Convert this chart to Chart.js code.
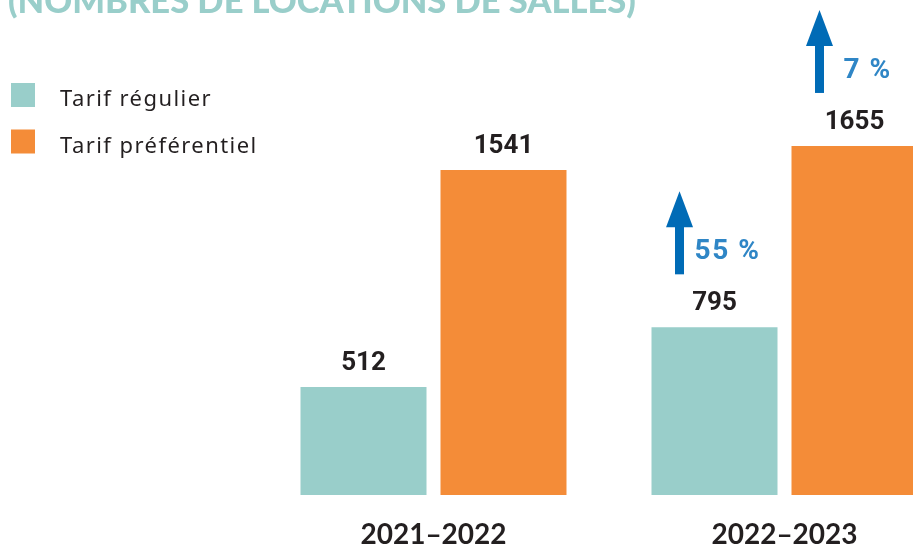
<!DOCTYPE html>
<html><head><meta charset="utf-8">
<script src="https://cdn.jsdelivr.net/npm/chart.js@4/dist/chart.umd.min.js"></script>
<style>
html,body{margin:0;padding:0;overflow:hidden;background:#fff;width:913px;height:544px}
#wrap{position:absolute;left:0;top:0;width:960px;height:560px}
</style></head>
<body><div id="wrap"><canvas id="c"></canvas></div>
<script>
const titleText = '(NOMBRES DE LOCATIONS DE SALLES)';
const categories = ['2021–2022', '2022–2023'];
const seriesNames = ['Tarif régulier', 'Tarif préférentiel'];
const regular = [512, 795];
const preferential = [1541, 1655];

const TEAL = '#99ceca', ORANGE = '#f48c38', DARK = '#231f20', ARROW = '#006bb6', PCT = '#2f86c6';
const NUM_FONT = '"Roboto","Lato","Noto Sans",sans-serif';
const LEG_FONT = '22px "Noto Sans","Open Sans",sans-serif';

const overlay = {
  id: 'overlay',
  afterDatasetsDraw(chart) {
    const ctx = chart.ctx;
    ctx.save();
    // title (partly cut off at top)
    let fs = 30;
    ctx.font = `900 ${fs}px "Lato","Noto Sans",sans-serif`;
    const w = ctx.measureText(titleText).width;
    fs = fs * 628 / w;
    ctx.font = `900 ${fs}px "Lato","Noto Sans",sans-serif`;
    ctx.fillStyle = TEAL;
    ctx.textAlign = 'left';
    ctx.textBaseline = 'alphabetic';
    ctx.fillText(titleText, 8, 13);

    // legend
    const legendY = [95, 141.5];
    ctx.font = LEG_FONT;
    const baseW = ctx.measureText(chart.data.datasets[0].label).width;
    const spacing = Math.max(0, (152 - baseW) / chart.data.datasets[0].label.length);
    chart.data.datasets.forEach((ds, i) => {
      ctx.fillStyle = ds.backgroundColor;
      ctx.fillRect(11, legendY[i] - 12, 24, 24);
      ctx.fillStyle = DARK;
      ctx.font = LEG_FONT;
      ctx.letterSpacing = spacing.toFixed(2) + 'px';
      ctx.textAlign = 'left';
      ctx.textBaseline = 'alphabetic';
      ctx.fillText(ds.label, 60, legendY[i] + 11);
    });
    ctx.letterSpacing = '0px';

    // value labels + growth arrows
    chart.data.datasets.forEach((ds, i) => {
      const meta = chart.getDatasetMeta(i);
      meta.data.forEach((bar, j) => {
        const v = ds.data[j];
        ctx.fillStyle = DARK;
        ctx.font = `bold 26px ${NUM_FONT}`;
        ctx.letterSpacing = '0px';
        ctx.textAlign = 'center';
        ctx.textBaseline = 'alphabetic';
        ctx.fillText(String(v), bar.x, bar.y - 17);
        if (j > 0) {
          const pct = Math.round((v / ds.data[j - 1] - 1) * 100);
          const left = bar.x - bar.width / 2;
          const cx = left + 28;
          const bottom = bar.y - 53;
          const top = bar.y - 136;
          ctx.fillStyle = ARROW;
          ctx.fillRect(cx - 4.5, top + 30, 9, bottom - top - 30);
          ctx.beginPath();
          ctx.moveTo(cx, top);
          ctx.lineTo(cx + 13.5, top + 36);
          ctx.lineTo(cx - 13.5, top + 36);
          ctx.closePath();
          ctx.fill();
          ctx.fillStyle = PCT;
          ctx.font = `bold 28px ${NUM_FONT}`;
          ctx.letterSpacing = '1.5px';
          ctx.textAlign = 'center';
          ctx.textBaseline = 'middle';
          ctx.fillText(pct + ' %', bar.x + 13, bar.y - 75);
          ctx.letterSpacing = '0px';
        }
      });
    });
    ctx.restore();
  }
};

new Chart(document.getElementById('c'), {
  type: 'bar',
  data: {
    labels: categories,
    datasets: [
      { label: seriesNames[0], data: regular, backgroundColor: TEAL },
      { label: seriesNames[1], data: preferential, backgroundColor: ORANGE }
    ]
  },
  options: {
    responsive: true,
    maintainAspectRatio: false,
    animation: false,
    layout: { padding: { left: 258, right: 0, top: 0, bottom: 0 } },
    datasets: { bar: { barPercentage: 0.9, categoryPercentage: 0.7977 } },
    plugins: { legend: { display: false }, tooltip: { enabled: false } },
    scales: {
      x: {
        grid: { display: false },
        border: { display: false },
        ticks: { color: DARK, padding: 15, font: { family: '"Lato","Roboto",sans-serif', weight: 'bold', size: 28 } },
        afterFit(s) { s.height = 65; }
      },
      y: { display: false, min: 0, max: 2347 }
    }
  },
  plugins: [overlay]
});
</script>
</body></html>
